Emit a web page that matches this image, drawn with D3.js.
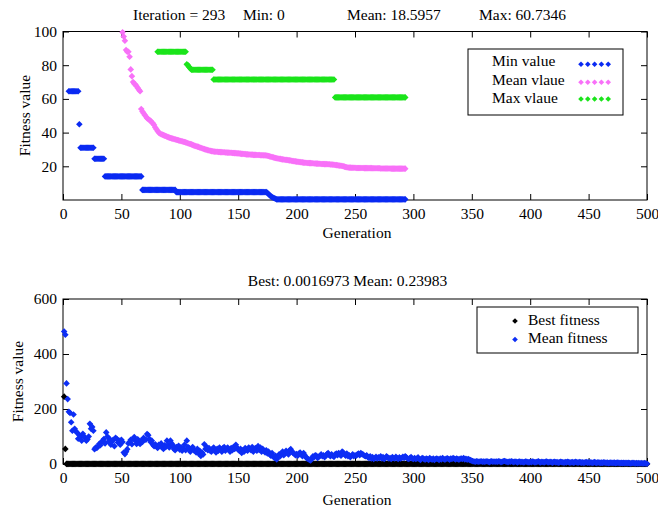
<!DOCTYPE html>
<html>
<head>
<meta charset="utf-8">
<script src="https://cdn.jsdelivr.net/npm/d3@7"></script>
<style>
  body { margin: 0; background: #fff; }
  svg { font-family: "Liberation Serif", "Times New Roman", serif; }
  .axis path { display: none; }
  .axis line { stroke: #000; }
  .axis text { font-size: 15.5px; fill: #000; font-family: "Liberation Serif", serif; }
</style>
</head>
<body>
<svg id="chart" width="658" height="514"></svg>
<script>
// tick labels
var xTicks = [0, 50, 100, 150, 200, 250, 300, 350, 400, 450, 500];
var topYTicks = [20, 40, 60, 80, 100];
var bottomYTicks = [0, 200, 400, 600];

// top panel: [first generation, last generation, value]
var minRuns = [[5, 13, 64.5], [14, 14, 45], [15, 26, 31], [27, 35, 24.5], [36, 67, 14],
  [68, 96, 6], [97, 174, 4.7], [175, 175, 4.2], [176, 176, 3.5], [177, 177, 2.8],
  [178, 178, 2.2], [179, 179, 1.7], [180, 180, 1.3], [181, 181, 1.0], [182, 182, 0.7],
  [183, 293, 0.4]];
var maxRuns = [[81, 105, 88], [106, 106, 80.5], [107, 107, 80], [108, 108, 79],
  [109, 109, 78], [110, 128, 77.3], [129, 232, 71.5], [233, 293, 60.9]];
var meanStart = 51;
var meanValues = [
  99.5, 97, 94.5, 89, 88, 88, 85, 77.5, 73.5, 70,
  69, 68.5, 67.5, 66.5, 65.5, 64.5, 54, 52.5, 51.5, 50.5,
  49.5, 48.5, 48, 47.5, 47, 46, 45.5, 44.5, 43, 42,
  41, 40, 39.5, 39, 38.8, 38.5, 38.2, 38, 37.6, 37.3,
  37, 36.8, 36.6, 36.4, 36.2, 36, 35.8, 35.6, 35.4, 35.2,
  35, 34.8, 34.6, 34.4, 34.2, 34, 33.7, 33.4, 33.2, 33,
  32.7, 32.4, 32.1, 31.9, 31.7, 31.5, 31.2, 31, 30.7, 30.4,
  30.2, 30, 29.8, 29.6, 29.4, 29.2, 29, 28.9, 28.8, 28.7,
  28.6, 28.6, 28.5, 28.5, 28.4, 28.4, 28.3, 28.3, 28.2, 28.2,
  28.1, 28.1, 28, 28, 27.9, 27.9, 27.8, 27.8, 27.7, 27.7,
  27.6, 27.5, 27.4, 27.4, 27.3, 27.2, 27.1, 27.1, 27, 27,
  26.9, 26.9, 26.8, 26.8, 26.8, 26.7, 26.7, 26.7, 26.6, 26.6,
  26.6, 26.5, 26.5, 26.4, 26.3, 26.1, 25.9, 25.7, 25.5, 25.3,
  25.1, 24.9, 24.8, 24.6, 24.5, 24.4, 24.2, 24.1, 24, 23.9,
  23.8, 23.7, 23.6, 23.5, 23.4, 23.2, 23.1, 23, 22.9, 22.8,
  22.7, 22.6, 22.5, 22.4, 22.3, 22.2, 22.1, 22.1, 22, 22,
  21.9, 21.9, 21.8, 21.8, 21.7, 21.7, 21.6, 21.6, 21.5, 21.5,
  21.4, 21.4, 21.4, 21.3, 21.3, 21.3, 21.2, 21.2, 21.1, 21.1,
  21, 20.9, 20.8, 20.7, 20.6, 20.5, 20.4, 20.3, 20.2, 20,
  19.8, 19.6, 19.4, 19.3, 19.2, 19.2, 19.1, 19.1, 19.1, 19.1,
  19, 19, 19, 19, 19, 19, 19, 18.9, 18.9, 18.9,
  18.9, 18.9, 18.9, 18.9, 18.8, 18.8, 18.8, 18.8, 18.8, 18.8,
  18.8, 18.7, 18.7, 18.7, 18.7, 18.7, 18.7, 18.7, 18.7, 18.7,
  18.6, 18.6, 18.6, 18.6, 18.6, 18.6, 18.6, 18.6, 18.6, 18.6,
  18.6, 18.6, 18.6];

// bottom panel
var bestRuns = [[1, 1, 245], [2, 2, 55], [3, 500, 0.3]];
var meanFitness = [
  482, 470, 293, 236, 190, 186, 152, 121, 180, 128,
  118, 115, 92, 105, 98, 85, 110, 100, 95, 85,
  90, 100, 146, 128, 135, 121, 54, 60, 58, 65,
  73, 68, 80, 85, 91, 75, 115, 100, 82, 91,
  70, 81, 88, 65, 95, 92, 78, 85, 70, 88,
  80, 42, 36, 45, 54, 75, 80, 88, 72, 91,
  98, 85, 73, 90, 78, 73, 85, 80, 95, 90,
  88, 109, 105, 91, 80, 85, 70, 65, 72, 64,
  58, 70, 66, 75, 60, 55, 68, 62, 85, 70,
  60, 85, 75, 68, 55, 50, 62, 58, 66, 52,
  60, 48, 55, 70, 50, 85, 62, 58, 45, 55,
  62, 50, 48, 42, 55, 38, 48, 29, 42, 35,
  72, 55, 62, 50, 58, 48, 45, 55, 60, 50,
  42, 55, 48, 60, 52, 45, 58, 62, 48, 55,
  60, 52, 45, 58, 50, 62, 55, 70, 60, 52,
  48, 55, 40, 50, 45, 58, 52, 48, 60, 55,
  50, 62, 45, 55, 58, 48, 65, 52, 60, 45,
  55, 48, 42, 50, 38, 45, 35, 30, 40, 28,
  22, 30, 17, 25, 35, 28, 40, 45, 32, 38,
  48, 42, 35, 50, 54, 45, 40, 38, 32, 36,
  30, 38, 42, 35, 28, 40, 32, 25, 20, 18,
  15, 13, 20, 28, 25, 32, 30, 22, 26, 30,
  35, 28, 32, 25, 30, 36, 40, 32, 28, 35,
  30, 26, 35, 38, 32, 40, 36, 30, 45, 42,
  35, 30, 38, 28, 32, 25, 30, 35, 28, 32,
  30, 35, 38, 32, 40, 36, 34, 30, 28, 32,
  25, 22, 28, 20, 25, 18, 22, 26, 20, 24,
  22, 28, 20, 25, 18, 22, 28, 24, 20, 22,
  18, 25, 22, 20, 26, 22, 18, 24, 20, 22,
  26, 22, 28, 24, 20, 18, 22, 25, 20, 18,
  22, 18, 20, 24, 18, 15, 20, 22, 18, 16,
  20, 18, 15, 22, 18, 16, 20, 15, 18, 20,
  18, 15, 20, 17, 22, 18, 16, 19, 21, 18,
  16, 20, 18, 22, 19, 17, 20, 18, 16, 19,
  20, 18, 22, 17, 19, 16, 18, 15, 14, 12,
  10, 9, 8, 10, 9, 8, 9, 10, 8, 9,
  8, 9, 10, 8, 7, 9, 10, 8, 9, 8,
  9, 8, 10, 9, 7, 8, 10, 11, 9, 8,
  7, 9, 8, 10, 8, 7, 9, 8, 6, 8,
  9, 7, 8, 6, 7, 9, 8, 7, 6, 8,
  7, 9, 8, 6, 7, 8, 10, 7, 6, 8,
  7, 6, 8, 9, 7, 6, 8, 7, 5, 7,
  8, 6, 7, 5, 6, 8, 7, 6, 5, 7,
  6, 8, 7, 5, 6, 7, 5, 6, 8, 6,
  5, 7, 6, 5, 6, 4, 6, 7, 5, 6,
  5, 6, 4, 5, 7, 5, 4, 6, 5, 4,
  5, 4, 6, 5, 4, 5, 3, 4, 5, 4,
  4, 5, 3, 4, 5, 4, 3, 4, 3, 4,
  3, 4, 3, 4, 3, 2, 3, 4, 3, 2,
  3, 2, 3, 2, 3, 2, 2, 3, 2, 1];

var colors = { min: "#0a2af2", mean: "#f871f8", max: "#1be41b", best: "#000000", meanFit: "#0d2ef5" };

function expandRuns(runs) {
  var pts = [];
  runs.forEach(r => {
    for (var g = r[0]; g <= r[1]; g++) pts.push({ g: g, v: r[2] });
  });
  return pts;
}

function fromList(start, list) {
  return list.map((v, i) => ({ g: start + i, v: v }));
}

function diamond(r) {
  return "M0," + (-r) + "L" + r + ",0L0," + r + "L" + (-r) + ",0Z";
}

var svg = d3.select("#chart");

function drawPanel(box, yDomain, yTicks) {
  var x = d3.scaleLinear().domain([0, 500]).range([box.left, box.right]);
  var y = d3.scaleLinear().domain(yDomain).range([box.bottom, box.top]);

  svg.append("rect")
      .attr("x", box.left)
      .attr("y", box.top)
      .attr("width", box.right - box.left)
      .attr("height", box.bottom - box.top)
      .attr("fill", "#fff")
      .attr("stroke", "#000");

  svg.append("g")
      .attr("class", "axis")
      .attr("transform", "translate(0," + box.bottom + ")")
      .call(d3.axisBottom(x).tickValues(xTicks).tickSize(-6).tickPadding(8));
  svg.append("g")
      .attr("class", "axis")
      .attr("transform", "translate(0," + box.top + ")")
      .call(d3.axisTop(x).tickValues(xTicks).tickSize(-6).tickFormat(""));
  svg.append("g")
      .attr("class", "axis")
      .attr("transform", "translate(" + box.left + ",0)")
      .call(d3.axisLeft(y).tickValues(yTicks).tickSize(-6).tickPadding(6));
  svg.append("g")
      .attr("class", "axis")
      .attr("transform", "translate(" + box.right + ",0)")
      .call(d3.axisRight(y).tickValues(yTicks).tickSize(-6).tickFormat(""));

  return { x: x, y: y };
}

function drawSeries(panel, pts, color, r) {
  svg.append("g")
    .selectAll("path")
    .data(pts)
    .enter()
    .append("path")
      .attr("d", diamond(r))
      .attr("transform", d => "translate(" + panel.x(d.g) + "," + panel.y(d.v) + ")")
      .attr("fill", color);
}

function label(x, y, txt, anchor, size) {
  return svg.append("text")
      .attr("x", x)
      .attr("y", y)
      .attr("font-size", size || 15.5)
      .style("text-anchor", anchor || "start")
      .text(txt);
}

// ---- top panel
var topBox = { left: 63, right: 647, top: 31.5, bottom: 200 };
var topPanel = drawPanel(topBox, [0, 100], topYTicks);
drawSeries(topPanel, expandRuns(minRuns), colors.min, 3.3);
drawSeries(topPanel, fromList(meanStart, meanValues), colors.mean, 3.3);
drawSeries(topPanel, expandRuns(maxRuns), colors.max, 3.3);

label(133, 19.5, "Iteration = 293");
label(243, 19.5, "Min: 0");
label(347, 19.5, "Mean: 18.5957");
label(479, 19.5, "Max: 60.7346");
label(357, 238, "Generation", "middle");
label(30, 115.5, "Fitness value", "middle").attr("transform", "rotate(-90,30,115.5)");

svg.append("rect")
    .attr("x", 468).attr("y", 49).attr("width", 155).attr("height", 66)
    .attr("fill", "#fff").attr("stroke", "#000");
var topLegend = [["Min value", colors.min, 64.3, 66], ["Mean vlaue", colors.mean, 82.3, 85], ["Max vlaue", colors.max, 99, 103]];
topLegend.forEach(item => {
  label(492, item[3], item[0]);
  d3.range(5).forEach(i => {
    svg.append("path")
        .attr("d", diamond(2.8))
        .attr("transform", "translate(" + (581 + i * 6.8) + "," + item[2] + ")")
        .attr("fill", item[1]);
  });
});

// ---- bottom panel
var botBox = { left: 63, right: 647, top: 299, bottom: 464 };
var botPanel = drawPanel(botBox, [0, 600], bottomYTicks);
drawSeries(botPanel, expandRuns(bestRuns), colors.best, 3.3);
drawSeries(botPanel, fromList(1, meanFitness), colors.meanFit, 3.3);

label(347.5, 286, "Best: 0.0016973 Mean: 0.23983", "middle");
label(357, 505, "Generation", "middle");
label(23, 381.5, "Fitness value", "middle").attr("transform", "rotate(-90,23,381.5)");

svg.append("rect")
    .attr("x", 477).attr("y", 307).attr("width", 161).attr("height", 46)
    .attr("fill", "#fff").attr("stroke", "#000");
var botLegend = [["Best fitness", colors.best, 321, 325], ["Mean fitness", colors.meanFit, 339.5, 343]];
botLegend.forEach(item => {
  svg.append("path")
      .attr("d", diamond(2.8))
      .attr("transform", "translate(515," + item[2] + ")")
      .attr("fill", item[1]);
  label(528, item[3], item[0]);
});
</script>
</body>
</html>
